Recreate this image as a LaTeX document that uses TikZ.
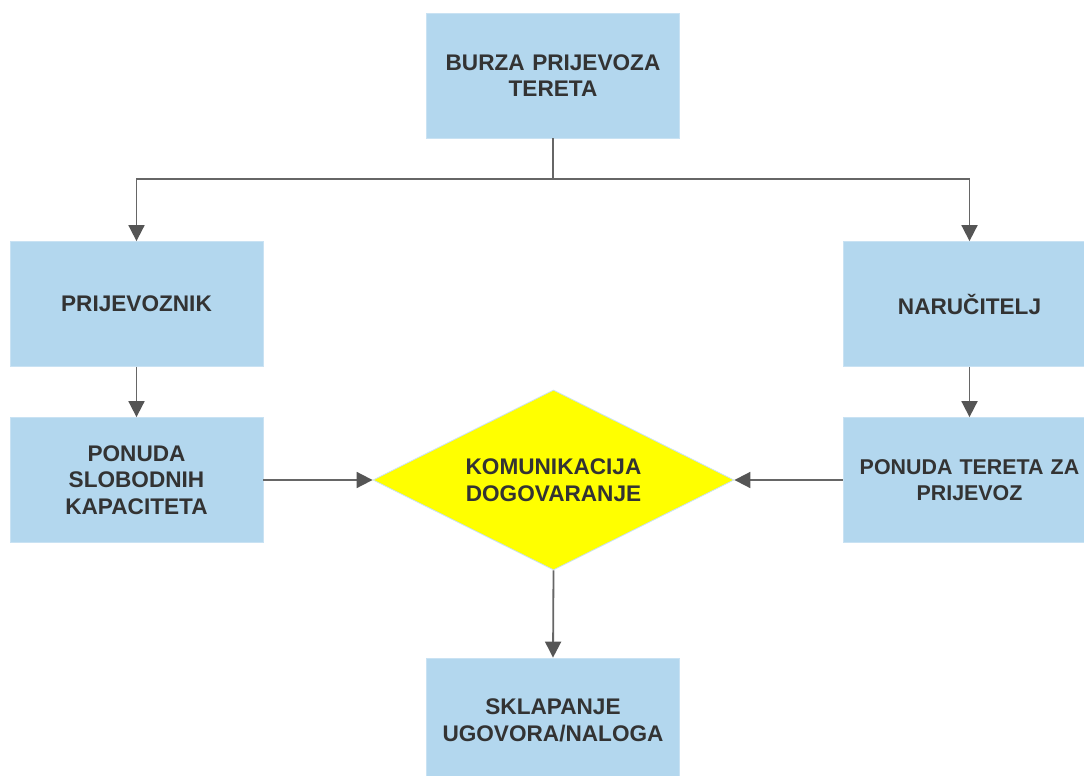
\documentclass[tikz,border=0pt]{standalone}
\usepackage{fontspec}
\setmainfont{Liberation Sans}
\usetikzlibrary{arrows.meta,shapes.geometric}
\definecolor{boxblue}{HTML}{B3D7EE}
\definecolor{boxedge}{HTML}{C9E2F3}
\definecolor{txt}{HTML}{333333}
\definecolor{linegray}{HTML}{666666}
\definecolor{headgray}{HTML}{555555}
\definecolor{diayellow}{HTML}{FFFF00}
\tikzset{
  box/.style={rectangle, fill=boxblue, draw=boxedge, line width=0.8pt,
    minimum width=251pt, minimum height=125pt, inner sep=4pt,
    text width=245pt, align=center, text=txt,
    font=\bfseries\fontsize{22.6}{26.5}\selectfont},
  dia/.style={diamond, fill=diayellow, draw=boxedge, line width=0.8pt,
    minimum width=361pt, minimum height=180pt, inner sep=0pt, aspect=2,
    align=center, text=txt, font=\bfseries\fontsize{22.6}{26.5}\selectfont},
  arr/.style={draw=linegray, line width=1.8pt,
    -{Triangle[width=16pt,length=16pt,fill=headgray,color=headgray]}},
  ln/.style={draw=linegray, line width=1.8pt}
}
\begin{document}
\begin{tikzpicture}[x=1pt,y=-1pt]
\useasboundingbox (0,0) rectangle (1084,776);
\clip (0,0) rectangle (1084,776);
\fill[white] (0,0) rectangle (1084,776);
\node[box] (top) at (553,75.5) {BURZA PRIJEVOZA\\TERETA};
\node[box] (pri) at (136.5,304) {PRIJEVOZNIK};
\node[box] (nar) at (969.5,304) {NARUČITELJ};
\node[box] (psk) at (136.5,480) {PONUDA\\SLOBODNIH\\KAPACITETA};
\node[box, font=\bfseries\fontsize{21.4}{26.5}\selectfont] (ptp) at (969.5,480) {PONUDA TERETA ZA\\PRIJEVOZ};
\node[dia] (kom) at (553.5,480) {KOMUNIKACIJA\\DOGOVARANJE};
\node[box] (skl) at (553,720.5) {SKLAPANJE\\UGOVORA/NALOGA};
\coordinate (split) at (553,179);
\draw[ln] (top.south) -- (split);
\draw[arr] (split) -| (pri.north);
\draw[arr] (split) -| (nar.north);
\draw[arr] (pri.south) -- (psk.north);
\draw[arr] (nar.south) -- (ptp.north);
\draw[arr] (psk.east) -- (kom.west);
\draw[arr] (ptp.west) -- (kom.east);
\draw[arr] (kom.south) -- (skl.north);
\end{tikzpicture}
\end{document}
